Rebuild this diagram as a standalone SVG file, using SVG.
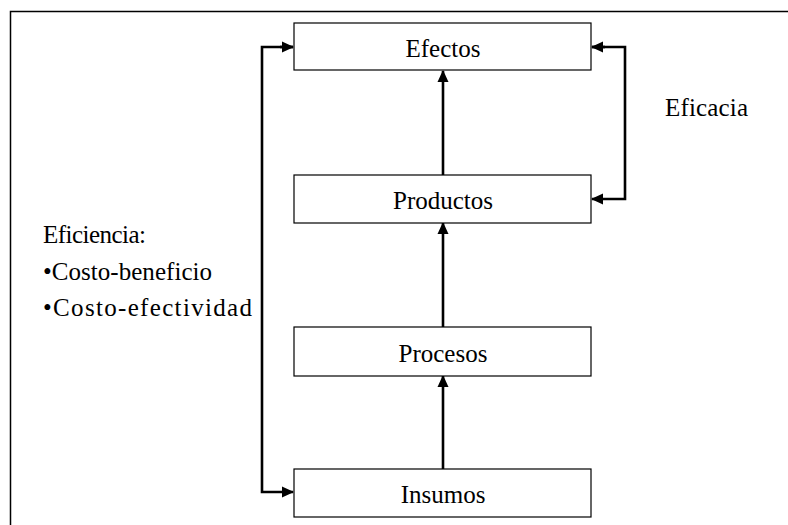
<svg xmlns="http://www.w3.org/2000/svg" width="788" height="525" viewBox="0 0 788 525">
<defs>
<marker id="ah" markerWidth="12" markerHeight="12" refX="11" refY="6" orient="auto" markerUnits="userSpaceOnUse">
<path d="M0,0.5 L12,6 L0,11.5 Z" fill="#000"/>
</marker>
</defs>
<style>
.box{fill:#fff;stroke:#000;stroke-width:1.2}
.lbl{font-family:'Liberation Serif','Times New Roman',serif;font-size:25px;fill:#000}
.c{text-anchor:middle}
.con{fill:none;stroke:#000;stroke-width:2.6}
</style>
<rect width="788" height="525" fill="#fff"/>
<path d="M10.5,525 V11.5 H788" fill="none" stroke="#000" stroke-width="1.5"/>
<g id="connectors">
<path class="con" d="M443,175 V71" marker-end="url(#ah)"/>
<path class="con" d="M443,327 V223" marker-end="url(#ah)"/>
<path class="con" d="M443,469 V376" marker-end="url(#ah)"/>
<path class="con" d="M293,47 H262 V492 H293" marker-end="url(#ah)"/>
<path class="con" d="M280,47 H293" marker-end="url(#ah)"/>
<path class="con" d="M592,47 H625 V199 H592" marker-end="url(#ah)"/>
<path class="con" d="M605,47 H592" marker-end="url(#ah)"/>
</g>
<g id="efectos">
<rect class="box" x="294" y="23" width="297" height="47"/>
<text class="lbl c" x="443" y="57">Efectos</text>
</g>
<g id="productos">
<rect class="box" x="294" y="175" width="297" height="48"/>
<text class="lbl c" x="443" y="209">Productos</text>
</g>
<g id="procesos">
<rect class="box" x="294" y="327" width="297" height="49"/>
<text class="lbl c" x="443" y="362">Procesos</text>
</g>
<g id="insumos">
<rect class="box" x="294" y="469" width="297" height="48"/>
<text class="lbl c" x="443" y="503">Insumos</text>
</g>
<g id="eficacia">
<text class="lbl" x="665" y="116" textLength="83" lengthAdjust="spacing">Eficacia</text>
</g>
<g id="eficiencia">
<text class="lbl" x="43" y="243" textLength="103" lengthAdjust="spacing">Eficiencia:</text>
<text class="lbl" x="43" y="280" textLength="169" lengthAdjust="spacing">•Costo-beneficio</text>
<text class="lbl" x="43" y="316" textLength="209" lengthAdjust="spacing">•Costo-efectividad</text>
</g>
</svg>
